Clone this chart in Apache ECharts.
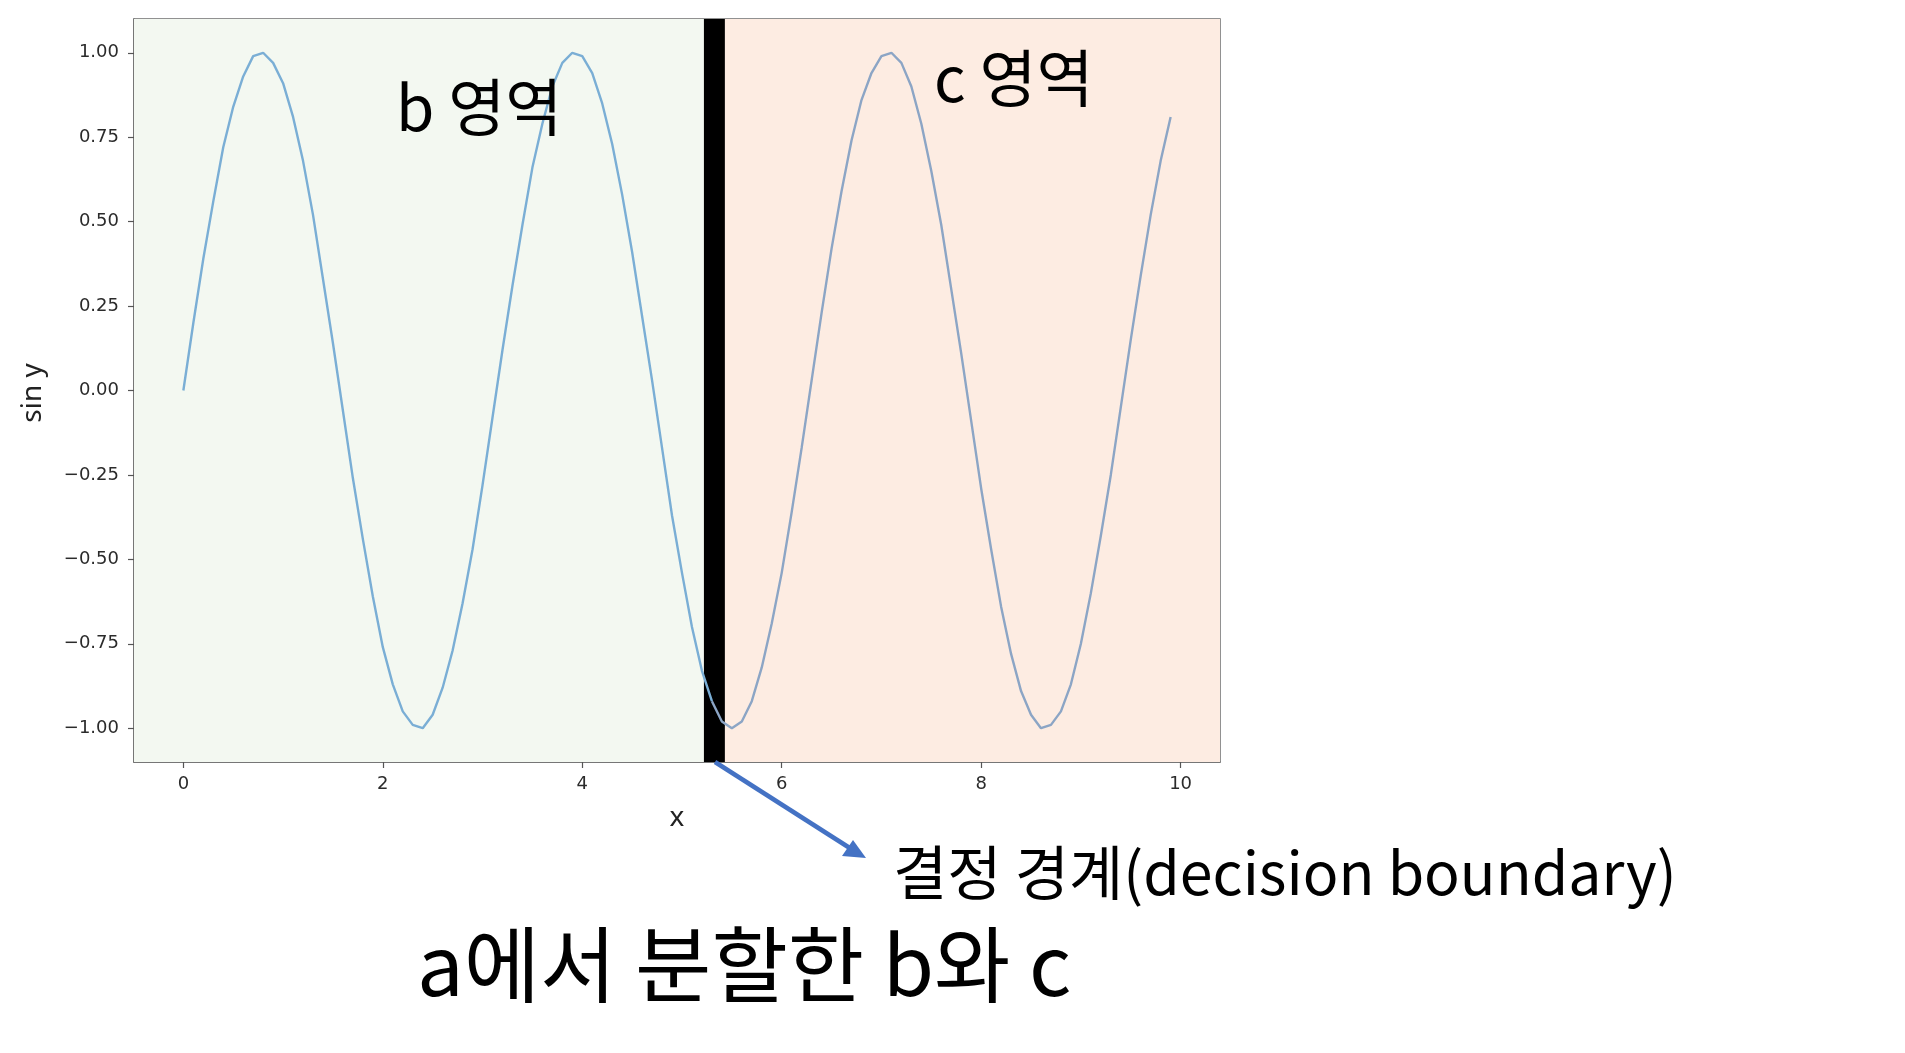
<!DOCTYPE html>
<html>
<head>
<meta charset="utf-8">
<script src="https://cdn.jsdelivr.net/npm/echarts@6/dist/echarts.min.js"></script>
<style>
  html, body { margin: 0; padding: 0; background: #ffffff; }
  #chart { width: 1905px; height: 1053px; }
</style>
</head>
<body>
<div id="chart"></div>
<script>
// x 값 (0 ~ 9.9, 0.1 간격)
var xs = [
  0.0, 0.1, 0.2, 0.3, 0.4, 0.5, 0.6, 0.7, 0.8, 0.9,
  1.0, 1.1, 1.2, 1.3, 1.4, 1.5, 1.6, 1.7, 1.8, 1.9,
  2.0, 2.1, 2.2, 2.3, 2.4, 2.5, 2.6, 2.7, 2.8, 2.9,
  3.0, 3.1, 3.2, 3.3, 3.4, 3.5, 3.6, 3.7, 3.8, 3.9,
  4.0, 4.1, 4.2, 4.3, 4.4, 4.5, 4.6, 4.7, 4.8, 4.9,
  5.0, 5.1, 5.2, 5.3, 5.4, 5.5, 5.6, 5.7, 5.8, 5.9,
  6.0, 6.1, 6.2, 6.3, 6.4, 6.5, 6.6, 6.7, 6.8, 6.9,
  7.0, 7.1, 7.2, 7.3, 7.4, 7.5, 7.6, 7.7, 7.8, 7.9,
  8.0, 8.1, 8.2, 8.3, 8.4, 8.5, 8.6, 8.7, 8.8, 8.9,
  9.0, 9.1, 9.2, 9.3, 9.4, 9.5, 9.6, 9.7, 9.8, 9.9
]
// sin y 값
var ys = [
  0.00, 0.20, 0.39, 0.56, 0.72, 0.84, 0.93, 0.99, 1.00, 0.97,
  0.91, 0.81, 0.68, 0.52, 0.33, 0.14, -0.06, -0.26, -0.44, -0.61,
  -0.76, -0.87, -0.95, -0.99, -1.00, -0.96, -0.88, -0.77, -0.63, -0.47,
  -0.28, -0.08, 0.12, 0.31, 0.49, 0.66, 0.79, 0.90, 0.97, 1.00,
  0.99, 0.94, 0.85, 0.73, 0.58, 0.41, 0.22, 0.03, -0.17, -0.37,
  -0.54, -0.70, -0.83, -0.92, -0.98, -1.00, -0.98, -0.92, -0.82, -0.69,
  -0.54, -0.36, -0.17, 0.03, 0.23, 0.42, 0.59, 0.74, 0.86, 0.94,
  0.99, 1.00, 0.97, 0.90, 0.79, 0.65, 0.49, 0.30, 0.11, -0.09,
  -0.29, -0.47, -0.64, -0.78, -0.89, -0.96, -1.00, -0.99, -0.95, -0.87,
  -0.75, -0.60, -0.43, -0.25, -0.05, 0.15, 0.34, 0.52, 0.68, 0.81
]
var xTicks = [0, 2, 4, 6, 8, 10]
var yTicks = [-1.0, -0.75, -0.5, -0.25, 0.0, 0.25, 0.5, 0.75, 1.0]
var xRange = [-0.495, 10.395]
var yRange = [-1.1, 1.1]
// 결정 경계 위치와 굵기 (x 값)
var boundaryX = 5.25
var boundaryBand = [5.22, 5.43]
var splitIndex = 53

var leftPart = []
var rightPart = []
for (var i = 0; i < xs.length; i++) {
  if (i <= splitIndex) leftPart.push([xs[i], ys[i]])
  if (i >= splitIndex) rightPart.push([xs[i], ys[i]])
}

var chart = echarts.init(document.getElementById('chart'))
var tickFont = { fontFamily: 'DejaVu Sans', fontSize: 18, color: '#2b2b2b' }
var krFont = 'Noto Sans CJK KR'

chart.setOption({
  backgroundColor: '#ffffff',
  animation: false,
  grid: {
    left: 134,
    right: 685,
    top: 19,
    bottom: 291,
    show: true,
    borderColor: '#6e6e6e',
    borderWidth: 1.5,
    backgroundColor: 'transparent'
  },
  xAxis: {
    type: 'value',
    min: xRange[0],
    max: xRange[1],
    splitLine: { show: false },
    axisLine: { show: true, onZero: false, lineStyle: { color: '#6e6e6e', width: 1.5 } },
    axisTick: { show: true, inside: false, length: 6, customValues: xTicks, lineStyle: { color: '#555', width: 1.2 } },
    axisLabel: Object.assign({ margin: 13, customValues: xTicks, formatter: function (v) { return String(v) } }, tickFont)
  },
  yAxis: {
    type: 'value',
    min: yRange[0],
    max: yRange[1],
    splitLine: { show: false },
    axisLine: { show: true, onZero: false, lineStyle: { color: '#6e6e6e', width: 1.5 } },
    axisTick: { show: true, inside: false, length: 6, customValues: yTicks, lineStyle: { color: '#555', width: 1.2 } },
    axisLabel: Object.assign({
      margin: 15,
      customValues: yTicks,
      formatter: function (v) { return (v < 0 ? '\u2212' : '') + Math.abs(v).toFixed(2) }
    }, tickFont)
  },
  series: [
    {
      // 배경: b 영역(초록), c 영역(분홍)
      type: 'line',
      z: 1,
      data: [],
      silent: true,
      markArea: {
        silent: true,
        data: [
          [{ xAxis: xRange[0], itemStyle: { color: '#f3f8f1' } }, { xAxis: boundaryX }],
          [{ xAxis: boundaryX, itemStyle: { color: '#fdece2' } }, { xAxis: xRange[1] }]
        ]
      }
    },
    {
      type: 'line',
      z: 3,
      data: leftPart,
      showSymbol: false,
      lineStyle: { color: '#7aaed5', width: 2.4 }
    },
    {
      type: 'line',
      z: 3,
      data: rightPart,
      showSymbol: false,
      lineStyle: { color: '#8ca5c5', width: 2.4 }
    },
    {
      // 결정 경계 (검은 막대)
      type: 'line',
      z: 5,
      data: [],
      silent: true,
      markArea: {
        silent: true,
        itemStyle: { color: '#000000' },
        data: [[{ xAxis: boundaryBand[0] }, { xAxis: boundaryBand[1] }]]
      }
    }
  ],
  graphic: [
    {
      type: 'text',
      z: 20,
      left: 396, top: 76,
      style: { text: 'b 영역', font: '62px "' + krFont + '"', fill: '#000' }
    },
    {
      type: 'text',
      z: 20,
      left: 934, top: 47,
      style: { text: 'c 영역', font: '62px "' + krFont + '"', fill: '#000' }
    },
    {
      type: 'text',
      z: 20,
      x: 33, y: 393,
      rotation: Math.PI / 2,
      style: { text: 'sin y', font: '28px "Noto Sans"', fill: '#222', align: 'center', verticalAlign: 'middle' }
    },
    {
      type: 'text',
      z: 20,
      x: 677, y: 818,
      style: { text: 'x', font: '28px "Noto Sans"', fill: '#222', align: 'center', verticalAlign: 'middle' }
    },
    {
      // 화살표
      type: 'line',
      z: 20,
      shape: { x1: 715, y1: 762, x2: 856, y2: 852 },
      style: { stroke: '#4472c4', lineWidth: 4.5 }
    },
    {
      type: 'polygon',
      z: 20,
      shape: { points: [[866, 858], [842, 856], [853, 840]] },
      style: { fill: '#4472c4' }
    },
    {
      type: 'text',
      z: 20,
      left: 893, top: 843,
      style: { text: '결정 경계(decision boundary)', font: '59px "' + krFont + '"', fill: '#000' }
    },
    {
      type: 'text',
      z: 20,
      left: 417, top: 923,
      style: { text: 'a에서 분할한 b와 c', font: '83px "' + krFont + '"', fill: '#000' }
    }
  ]
})
</script>
</body>
</html>
